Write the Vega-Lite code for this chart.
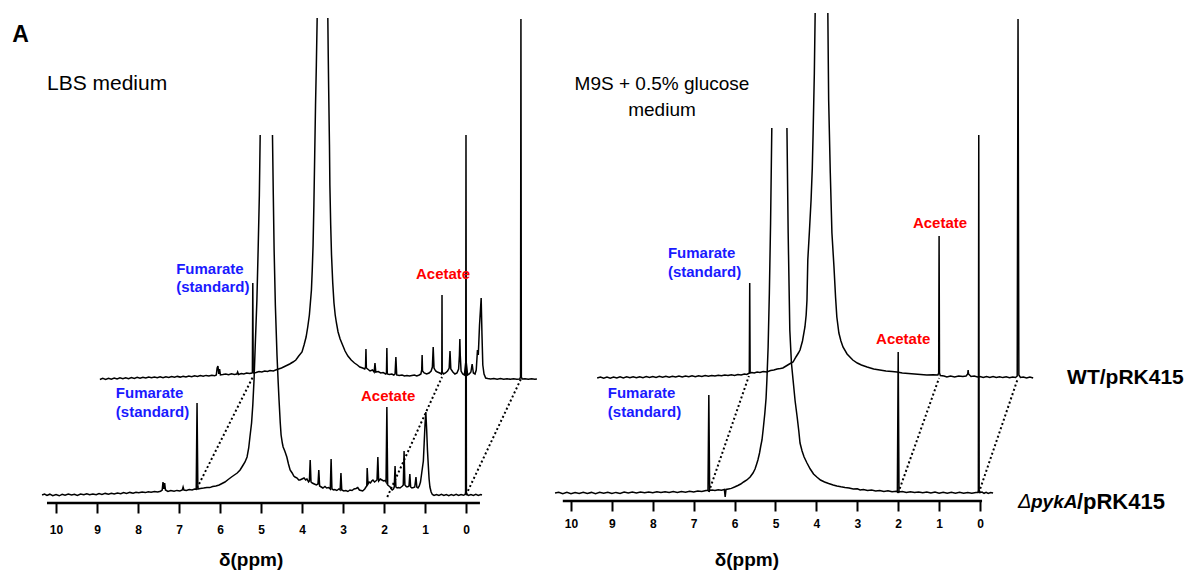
{
"$schema": "https://vega.github.io/schema/vega-lite/v6.json",
"padding": 0,
"autosize": {"type": "pad"},
"bounds": "flush",
"spacing": 5,
"background": "white",
"config": {"view": {"stroke": null}, "font": "Liberation Sans"},
"datasets": {
"lb": [
{"g":"a","x":10.34,"v":0},{"g":"a","x":10.28,"v":1},{"g":"a","x":10.22,"v":-0.5},{"g":"a","x":10.15,"v":0.8},{"g":"a","x":10.08,"v":-0.6},{"g":"a","x":10.0,"v":0.5},{"g":"a","x":9.92,"v":-0.8},{"g":"a","x":9.85,"v":0.6},{"g":"a","x":9.78,"v":-0.3},{"g":"a","x":9.7,"v":1},{"g":"a","x":9.62,"v":0},{"g":"a","x":9.55,"v":0.8},{"g":"a","x":9.48,"v":-0.4},{"g":"a","x":9.4,"v":1},{"g":"a","x":9.32,"v":0.2},{"g":"a","x":9.25,"v":1.2},{"g":"a","x":9.18,"v":0.3},{"g":"a","x":9.1,"v":1},{"g":"a","x":9.02,"v":0.2},{"g":"a","x":8.95,"v":1.4},{"g":"a","x":8.88,"v":0.6},{"g":"a","x":8.8,"v":1.6},{"g":"a","x":8.72,"v":0.8},{"g":"a","x":8.65,"v":1.8},{"g":"a","x":8.58,"v":1},{"g":"a","x":8.5,"v":2},{"g":"a","x":8.42,"v":1.3},{"g":"a","x":8.35,"v":2.4},{"g":"a","x":8.28,"v":1.5},{"g":"a","x":8.2,"v":2.6},{"g":"a","x":8.12,"v":1.8},{"g":"a","x":8.05,"v":2.8},{"g":"a","x":7.98,"v":2.2},{"g":"a","x":7.9,"v":3},{"g":"a","x":7.82,"v":2.4},{"g":"a","x":7.75,"v":3.2},{"g":"a","x":7.68,"v":2.8},{"g":"a","x":7.6,"v":3.6},{"g":"a","x":7.52,"v":3},{"g":"a","x":7.45,"v":3.8},{"g":"a","x":7.41,"v":5},{"g":"a","x":7.39,"v":13},{"g":"a","x":7.37,"v":6},{"g":"a","x":7.35,"v":12},{"g":"a","x":7.33,"v":5},{"g":"a","x":7.27,"v":3.6},{"g":"a","x":7.2,"v":4.4},{"g":"a","x":7.12,"v":3.8},{"g":"a","x":7.05,"v":4.6},{"g":"a","x":6.98,"v":4},{"g":"a","x":6.92,"v":5},{"g":"a","x":6.9,"v":8},{"g":"a","x":6.88,"v":5},{"g":"a","x":6.82,"v":4.6},{"g":"a","x":6.75,"v":5.4},{"g":"a","x":6.68,"v":5},{"g":"a","x":6.62,"v":6},{"g":"a","x":6.58,"v":5.6},{"g":"a","x":6.56,"v":92},{"g":"a","x":6.54,"v":6},{"g":"a","x":6.48,"v":6.6},{"g":"a","x":6.4,"v":7},{"g":"a","x":6.32,"v":7.6},{"g":"a","x":6.25,"v":7.4},{"g":"a","x":6.18,"v":8.4},{"g":"a","x":6.1,"v":9},{"g":"a","x":6.02,"v":10},{"g":"a","x":5.95,"v":11.5},{"g":"a","x":5.88,"v":13},{"g":"a","x":5.8,"v":15.5},{"g":"a","x":5.72,"v":18},{"g":"a","x":5.65,"v":20},{"g":"a","x":5.58,"v":22},{"g":"a","x":5.51,"v":25},{"g":"a","x":5.45,"v":29},{"g":"a","x":5.39,"v":33},{"g":"a","x":5.34,"v":38},{"g":"a","x":5.3,"v":47},{"g":"a","x":5.27,"v":58},{"g":"a","x":5.23,"v":72},{"g":"a","x":5.2,"v":90},{"g":"a","x":5.17,"v":115},{"g":"a","x":5.14,"v":150},{"g":"a","x":5.1,"v":195},{"g":"a","x":5.07,"v":245},{"g":"a","x":5.04,"v":300},{"g":"a","x":5.02,"v":360},
{"g":"b","x":4.72,"v":360},{"g":"b","x":4.7,"v":300},{"g":"b","x":4.68,"v":245},{"g":"b","x":4.65,"v":190},{"g":"b","x":4.61,"v":140},{"g":"b","x":4.58,"v":112},{"g":"b","x":4.56,"v":95},{"g":"b","x":4.53,"v":72},{"g":"b","x":4.51,"v":60},{"g":"b","x":4.48,"v":52},{"g":"b","x":4.46,"v":48},{"g":"b","x":4.42,"v":44},{"g":"b","x":4.37,"v":38},{"g":"b","x":4.33,"v":31},{"g":"b","x":4.29,"v":25},{"g":"b","x":4.24,"v":22},{"g":"b","x":4.2,"v":19},{"g":"b","x":4.17,"v":18},{"g":"b","x":4.12,"v":17},{"g":"b","x":4.08,"v":15},{"g":"b","x":4.05,"v":15},{"g":"b","x":4.0,"v":16},{"g":"b","x":3.95,"v":17},{"g":"b","x":3.91,"v":15},{"g":"b","x":3.88,"v":16},{"g":"b","x":3.84,"v":13},{"g":"b","x":3.82,"v":14},{"g":"b","x":3.8,"v":35},{"g":"b","x":3.78,"v":13},{"g":"b","x":3.75,"v":12},{"g":"b","x":3.7,"v":11},{"g":"b","x":3.65,"v":10},{"g":"b","x":3.61,"v":11},{"g":"b","x":3.59,"v":25},{"g":"b","x":3.57,"v":9},{"g":"b","x":3.53,"v":8},{"g":"b","x":3.49,"v":7},{"g":"b","x":3.44,"v":8.5},{"g":"b","x":3.4,"v":7},{"g":"b","x":3.35,"v":7.5},{"g":"b","x":3.31,"v":6},{"g":"b","x":3.29,"v":36},{"g":"b","x":3.27,"v":6},{"g":"b","x":3.23,"v":5},{"g":"b","x":3.2,"v":5.5},{"g":"b","x":3.15,"v":4.5},{"g":"b","x":3.1,"v":6},{"g":"b","x":3.07,"v":5},{"g":"b","x":3.05,"v":22},{"g":"b","x":3.03,"v":5},{"g":"b","x":2.98,"v":4},{"g":"b","x":2.93,"v":4.5},{"g":"b","x":2.88,"v":3.5},{"g":"b","x":2.83,"v":5},{"g":"b","x":2.78,"v":4.5},{"g":"b","x":2.73,"v":6},{"g":"b","x":2.68,"v":6.5},{"g":"b","x":2.64,"v":7.5},{"g":"b","x":2.6,"v":5},{"g":"b","x":2.56,"v":4.5},{"g":"b","x":2.52,"v":4},{"g":"b","x":2.47,"v":6},{"g":"b","x":2.44,"v":8},{"g":"b","x":2.42,"v":9},{"g":"b","x":2.41,"v":27},{"g":"b","x":2.39,"v":11},{"g":"b","x":2.36,"v":13},{"g":"b","x":2.33,"v":12},{"g":"b","x":2.3,"v":14},{"g":"b","x":2.27,"v":15},{"g":"b","x":2.23,"v":13},{"g":"b","x":2.2,"v":14},{"g":"b","x":2.17,"v":15},{"g":"b","x":2.15,"v":38},{"g":"b","x":2.13,"v":14},{"g":"b","x":2.09,"v":16},{"g":"b","x":2.05,"v":15},{"g":"b","x":2.01,"v":14},{"g":"b","x":1.97,"v":14.5},{"g":"b","x":1.95,"v":13},{"g":"b","x":1.93,"v":88},{"g":"b","x":1.91,"v":10},{"g":"b","x":1.88,"v":9},{"g":"b","x":1.85,"v":8},{"g":"b","x":1.82,"v":6},{"g":"b","x":1.8,"v":5},{"g":"b","x":1.77,"v":6},{"g":"b","x":1.75,"v":8},{"g":"b","x":1.73,"v":29},{"g":"b","x":1.71,"v":8},{"g":"b","x":1.68,"v":7},{"g":"b","x":1.65,"v":7.5},{"g":"b","x":1.61,"v":7},{"g":"b","x":1.58,"v":8},{"g":"b","x":1.55,"v":9},{"g":"b","x":1.53,"v":10},{"g":"b","x":1.51,"v":44},{"g":"b","x":1.49,"v":10},{"g":"b","x":1.46,"v":8.5},{"g":"b","x":1.44,"v":8},{"g":"b","x":1.41,"v":8.5},{"g":"b","x":1.39,"v":9},{"g":"b","x":1.37,"v":21},{"g":"b","x":1.35,"v":8},{"g":"b","x":1.32,"v":7},{"g":"b","x":1.28,"v":7.5},{"g":"b","x":1.25,"v":8},{"g":"b","x":1.22,"v":18},{"g":"b","x":1.2,"v":8},{"g":"b","x":1.17,"v":7},{"g":"b","x":1.14,"v":9},{"g":"b","x":1.11,"v":13},{"g":"b","x":1.08,"v":22},{"g":"b","x":1.06,"v":28},{"g":"b","x":1.04,"v":34},{"g":"b","x":1.02,"v":52},{"g":"b","x":1.0,"v":70},{"g":"b","x":0.98,"v":83},{"g":"b","x":0.96,"v":66},{"g":"b","x":0.94,"v":45},{"g":"b","x":0.92,"v":30},{"g":"b","x":0.9,"v":16},{"g":"b","x":0.88,"v":8},{"g":"b","x":0.85,"v":3},{"g":"b","x":0.82,"v":0.5},{"g":"b","x":0.78,"v":-0.5},{"g":"b","x":0.72,"v":0.5},{"g":"b","x":0.66,"v":-0.4},{"g":"b","x":0.6,"v":0.6},{"g":"b","x":0.54,"v":-0.5},{"g":"b","x":0.48,"v":0.5},{"g":"b","x":0.42,"v":-0.6},{"g":"b","x":0.36,"v":0.4},{"g":"b","x":0.3,"v":-0.4},{"g":"b","x":0.24,"v":0.6},{"g":"b","x":0.18,"v":-0.5},{"g":"b","x":0.12,"v":0.5},{"g":"b","x":0.06,"v":-0.3},{"g":"b","x":0.02,"v":0.5},{"g":"b","x":0.01,"v":3},{"g":"b","x":0.0,"v":360},{"g":"b","x":-0.01,"v":3},{"g":"b","x":-0.02,"v":0.5},{"g":"b","x":-0.06,"v":-0.5},{"g":"b","x":-0.12,"v":0.5},{"g":"b","x":-0.18,"v":-0.4},{"g":"b","x":-0.24,"v":0.6},{"g":"b","x":-0.3,"v":-0.5},{"g":"b","x":-0.36,"v":0.4},{"g":"b","x":-0.39,"v":0}
],
"lt": [
{"g":"a","x":8.93,"v":115.5},{"g":"a","x":8.86,"v":116.6},{"g":"a","x":8.79,"v":115.6},{"g":"a","x":8.72,"v":116.8},{"g":"a","x":8.65,"v":115.8},{"g":"a","x":8.58,"v":117},{"g":"a","x":8.51,"v":116},{"g":"a","x":8.44,"v":117.2},{"g":"a","x":8.37,"v":116.3},{"g":"a","x":8.3,"v":117.3},{"g":"a","x":8.23,"v":116.4},{"g":"a","x":8.16,"v":117.5},{"g":"a","x":8.09,"v":116.6},{"g":"a","x":8.02,"v":117.6},{"g":"a","x":7.95,"v":116.8},{"g":"a","x":7.88,"v":117.8},{"g":"a","x":7.81,"v":117},{"g":"a","x":7.74,"v":118},{"g":"a","x":7.67,"v":117.2},{"g":"a","x":7.6,"v":118},{"g":"a","x":7.53,"v":117.3},{"g":"a","x":7.46,"v":118.2},{"g":"a","x":7.39,"v":117.4},{"g":"a","x":7.32,"v":118.3},{"g":"a","x":7.25,"v":117.6},{"g":"a","x":7.18,"v":118.5},{"g":"a","x":7.11,"v":117.7},{"g":"a","x":7.04,"v":118.6},{"g":"a","x":6.97,"v":117.9},{"g":"a","x":6.9,"v":118.8},{"g":"a","x":6.83,"v":118},{"g":"a","x":6.76,"v":119},{"g":"a","x":6.69,"v":118.3},{"g":"a","x":6.62,"v":119.2},{"g":"a","x":6.55,"v":118.5},{"g":"a","x":6.48,"v":119.4},{"g":"a","x":6.41,"v":118.7},{"g":"a","x":6.34,"v":119.6},{"g":"a","x":6.27,"v":119},{"g":"a","x":6.2,"v":119.8},{"g":"a","x":6.13,"v":119.2},{"g":"a","x":6.09,"v":120},{"g":"a","x":6.07,"v":127},{"g":"a","x":6.05,"v":129},{"g":"a","x":6.03,"v":121},{"g":"a","x":6.01,"v":126},{"g":"a","x":5.99,"v":120},{"g":"a","x":5.93,"v":120.4},{"g":"a","x":5.86,"v":121},{"g":"a","x":5.79,"v":120.3},{"g":"a","x":5.72,"v":121.2},{"g":"a","x":5.65,"v":120.5},{"g":"a","x":5.59,"v":121},{"g":"a","x":5.57,"v":123},{"g":"a","x":5.55,"v":120.5},{"g":"a","x":5.48,"v":121.5},{"g":"a","x":5.42,"v":121},{"g":"a","x":5.35,"v":122},{"g":"a","x":5.28,"v":121.5},{"g":"a","x":5.22,"v":122},{"g":"a","x":5.21,"v":123},{"g":"a","x":5.2,"v":212},{"g":"a","x":5.19,"v":123},{"g":"a","x":5.18,"v":122},{"g":"a","x":5.12,"v":122.5},{"g":"a","x":5.05,"v":123.5},{"g":"a","x":4.98,"v":123},{"g":"a","x":4.91,"v":124},{"g":"a","x":4.84,"v":123.5},{"g":"a","x":4.78,"v":124.5},{"g":"a","x":4.7,"v":124},{"g":"a","x":4.61,"v":125.5},{"g":"a","x":4.5,"v":127},{"g":"a","x":4.4,"v":129},{"g":"a","x":4.3,"v":131},{"g":"a","x":4.22,"v":133},{"g":"a","x":4.15,"v":135},{"g":"a","x":4.08,"v":139},{"g":"a","x":4.0,"v":143},{"g":"a","x":3.95,"v":150},{"g":"a","x":3.9,"v":158},{"g":"a","x":3.86,"v":168},{"g":"a","x":3.82,"v":180},{"g":"a","x":3.8,"v":190},{"g":"a","x":3.77,"v":205},{"g":"a","x":3.75,"v":225},{"g":"a","x":3.73,"v":250},{"g":"a","x":3.71,"v":290},{"g":"a","x":3.69,"v":340},{"g":"a","x":3.67,"v":390},{"g":"a","x":3.65,"v":430},{"g":"a","x":3.63,"v":477},
{"g":"b","x":3.37,"v":477},{"g":"b","x":3.36,"v":440},{"g":"b","x":3.35,"v":408},{"g":"b","x":3.33,"v":350},{"g":"b","x":3.32,"v":310},{"g":"b","x":3.3,"v":270},{"g":"b","x":3.28,"v":240},{"g":"b","x":3.25,"v":212},{"g":"b","x":3.22,"v":192},{"g":"b","x":3.19,"v":180},{"g":"b","x":3.16,"v":172},{"g":"b","x":3.12,"v":163},{"g":"b","x":3.07,"v":156},{"g":"b","x":3.01,"v":150},{"g":"b","x":2.95,"v":144},{"g":"b","x":2.88,"v":139},{"g":"b","x":2.8,"v":135},{"g":"b","x":2.72,"v":132},{"g":"b","x":2.65,"v":130},{"g":"b","x":2.59,"v":128},{"g":"b","x":2.52,"v":127},{"g":"b","x":2.47,"v":126},{"g":"b","x":2.45,"v":128},{"g":"b","x":2.44,"v":146},{"g":"b","x":2.43,"v":127},{"g":"b","x":2.4,"v":126},{"g":"b","x":2.34,"v":124},{"g":"b","x":2.28,"v":125},{"g":"b","x":2.24,"v":123},{"g":"b","x":2.22,"v":132},{"g":"b","x":2.2,"v":123},{"g":"b","x":2.14,"v":123.5},{"g":"b","x":2.08,"v":122},{"g":"b","x":2.02,"v":122.5},{"g":"b","x":1.96,"v":121},{"g":"b","x":1.94,"v":122},{"g":"b","x":1.93,"v":147},{"g":"b","x":1.92,"v":121},{"g":"b","x":1.87,"v":120.5},{"g":"b","x":1.81,"v":121},{"g":"b","x":1.76,"v":120},{"g":"b","x":1.73,"v":121},{"g":"b","x":1.71,"v":138},{"g":"b","x":1.69,"v":120},{"g":"b","x":1.63,"v":119.5},{"g":"b","x":1.56,"v":120},{"g":"b","x":1.5,"v":119},{"g":"b","x":1.44,"v":119.5},{"g":"b","x":1.38,"v":119},{"g":"b","x":1.32,"v":119.5},{"g":"b","x":1.26,"v":120},{"g":"b","x":1.2,"v":119},{"g":"b","x":1.14,"v":120},{"g":"b","x":1.1,"v":121},{"g":"b","x":1.08,"v":125},{"g":"b","x":1.07,"v":140},{"g":"b","x":1.06,"v":124},{"g":"b","x":1.02,"v":122},{"g":"b","x":0.96,"v":121},{"g":"b","x":0.9,"v":122},{"g":"b","x":0.85,"v":124},{"g":"b","x":0.82,"v":128},{"g":"b","x":0.8,"v":148},{"g":"b","x":0.78,"v":127},{"g":"b","x":0.74,"v":124},{"g":"b","x":0.7,"v":123},{"g":"b","x":0.64,"v":122},{"g":"b","x":0.6,"v":121},{"g":"b","x":0.59,"v":124},{"g":"b","x":0.585,"v":200},{"g":"b","x":0.58,"v":123},{"g":"b","x":0.55,"v":121},{"g":"b","x":0.5,"v":122},{"g":"b","x":0.45,"v":124},{"g":"b","x":0.41,"v":127},{"g":"b","x":0.39,"v":144},{"g":"b","x":0.37,"v":126},{"g":"b","x":0.32,"v":123},{"g":"b","x":0.27,"v":121},{"g":"b","x":0.22,"v":122},{"g":"b","x":0.18,"v":126},{"g":"b","x":0.16,"v":140},{"g":"b","x":0.15,"v":156},{"g":"b","x":0.14,"v":140},{"g":"b","x":0.12,"v":124},{"g":"b","x":0.08,"v":121},{"g":"b","x":0.04,"v":120},{"g":"b","x":0.0,"v":135},{"g":"b","x":-0.04,"v":120},{"g":"b","x":-0.08,"v":121},{"g":"b","x":-0.12,"v":123},{"g":"b","x":-0.15,"v":131},{"g":"b","x":-0.18,"v":122},{"g":"b","x":-0.22,"v":121},{"g":"b","x":-0.25,"v":125},{"g":"b","x":-0.28,"v":145},{"g":"b","x":-0.3,"v":140},{"g":"b","x":-0.33,"v":170},{"g":"b","x":-0.37,"v":197},{"g":"b","x":-0.39,"v":160},{"g":"b","x":-0.41,"v":130},{"g":"b","x":-0.44,"v":121},{"g":"b","x":-0.48,"v":117},{"g":"b","x":-0.53,"v":116.5},{"g":"b","x":-0.6,"v":116},{"g":"b","x":-0.68,"v":116.5},{"g":"b","x":-0.76,"v":115.8},{"g":"b","x":-0.84,"v":116.4},{"g":"b","x":-0.92,"v":115.8},{"g":"b","x":-1.0,"v":116.3},{"g":"b","x":-1.08,"v":115.7},{"g":"b","x":-1.16,"v":116.2},{"g":"b","x":-1.24,"v":115.8},{"g":"b","x":-1.31,"v":116},{"g":"b","x":-1.33,"v":118},{"g":"b","x":-1.34,"v":476},{"g":"b","x":-1.35,"v":118},{"g":"b","x":-1.37,"v":116},{"g":"b","x":-1.44,"v":116.3},{"g":"b","x":-1.52,"v":115.7},{"g":"b","x":-1.6,"v":116.2},{"g":"b","x":-1.68,"v":115.8},{"g":"b","x":-1.73,"v":116}
],
"rb": [
{"g":"a","x":10.39,"v":0},{"g":"a","x":10.3,"v":0.8},{"g":"a","x":10.2,"v":-0.6},{"g":"a","x":10.1,"v":0.6},{"g":"a","x":10.0,"v":-0.8},{"g":"a","x":9.9,"v":0.5},{"g":"a","x":9.8,"v":-0.5},{"g":"a","x":9.7,"v":0.8},{"g":"a","x":9.6,"v":-0.4},{"g":"a","x":9.5,"v":0.6},{"g":"a","x":9.4,"v":-0.6},{"g":"a","x":9.3,"v":0.7},{"g":"a","x":9.2,"v":-0.3},{"g":"a","x":9.1,"v":0.8},{"g":"a","x":9.0,"v":-0.5},{"g":"a","x":8.9,"v":0.6},{"g":"a","x":8.8,"v":-0.4},{"g":"a","x":8.7,"v":0.9},{"g":"a","x":8.6,"v":0},{"g":"a","x":8.5,"v":1},{"g":"a","x":8.4,"v":0},{"g":"a","x":8.3,"v":1},{"g":"a","x":8.2,"v":0.2},{"g":"a","x":8.1,"v":1.1},{"g":"a","x":8.0,"v":0.3},{"g":"a","x":7.9,"v":1.2},{"g":"a","x":7.8,"v":0.4},{"g":"a","x":7.7,"v":1.3},{"g":"a","x":7.6,"v":0.5},{"g":"a","x":7.5,"v":1.4},{"g":"a","x":7.4,"v":0.6},{"g":"a","x":7.3,"v":1.5},{"g":"a","x":7.2,"v":0.8},{"g":"a","x":7.1,"v":1.7},{"g":"a","x":7.0,"v":1},{"g":"a","x":6.9,"v":2},{"g":"a","x":6.8,"v":1.4},{"g":"a","x":6.7,"v":2.4},{"g":"a","x":6.65,"v":2.5},{"g":"a","x":6.63,"v":98},{"g":"a","x":6.61,"v":2.6},{"g":"a","x":6.55,"v":3},{"g":"a","x":6.48,"v":2.4},{"g":"a","x":6.4,"v":3.2},{"g":"a","x":6.32,"v":2.8},{"g":"a","x":6.25,"v":3.5},{"g":"a","x":6.23,"v":-4},{"g":"a","x":6.21,"v":3.5},{"g":"a","x":6.15,"v":4},{"g":"a","x":6.08,"v":4.6},{"g":"a","x":6.0,"v":6},{"g":"a","x":5.92,"v":7.5},{"g":"a","x":5.85,"v":9},{"g":"a","x":5.78,"v":11},{"g":"a","x":5.7,"v":13},{"g":"a","x":5.62,"v":16},{"g":"a","x":5.55,"v":20},{"g":"a","x":5.5,"v":24},{"g":"a","x":5.46,"v":29},{"g":"a","x":5.43,"v":33},{"g":"a","x":5.39,"v":40},{"g":"a","x":5.36,"v":47},{"g":"a","x":5.33,"v":53},{"g":"a","x":5.3,"v":64},{"g":"a","x":5.26,"v":80},{"g":"a","x":5.23,"v":95},{"g":"a","x":5.21,"v":113},{"g":"a","x":5.18,"v":146},{"g":"a","x":5.15,"v":200},{"g":"a","x":5.12,"v":270},{"g":"a","x":5.09,"v":365},
{"g":"b","x":4.72,"v":365},{"g":"b","x":4.69,"v":260},{"g":"b","x":4.65,"v":163},{"g":"b","x":4.61,"v":130},{"g":"b","x":4.57,"v":113},{"g":"b","x":4.52,"v":92},{"g":"b","x":4.47,"v":76},{"g":"b","x":4.43,"v":62},{"g":"b","x":4.4,"v":50},{"g":"b","x":4.35,"v":42},{"g":"b","x":4.3,"v":36},{"g":"b","x":4.23,"v":30},{"g":"b","x":4.15,"v":24},{"g":"b","x":4.07,"v":19},{"g":"b","x":3.99,"v":16},{"g":"b","x":3.9,"v":13},{"g":"b","x":3.8,"v":11},{"g":"b","x":3.7,"v":9.5},{"g":"b","x":3.59,"v":8},{"g":"b","x":3.5,"v":7},{"g":"b","x":3.4,"v":6.2},{"g":"b","x":3.3,"v":5.5},{"g":"b","x":3.2,"v":5},{"g":"b","x":3.1,"v":4},{"g":"b","x":3.0,"v":4.2},{"g":"b","x":2.93,"v":3},{"g":"b","x":2.85,"v":3.5},{"g":"b","x":2.75,"v":2.5},{"g":"b","x":2.65,"v":3},{"g":"b","x":2.55,"v":2},{"g":"b","x":2.45,"v":2.6},{"g":"b","x":2.35,"v":1.6},{"g":"b","x":2.25,"v":2.2},{"g":"b","x":2.15,"v":1.2},{"g":"b","x":2.05,"v":1.8},{"g":"b","x":2.02,"v":1},{"g":"b","x":2.0,"v":141},{"g":"b","x":1.98,"v":1},{"g":"b","x":1.9,"v":1.5},{"g":"b","x":1.8,"v":0.5},{"g":"b","x":1.7,"v":1.2},{"g":"b","x":1.6,"v":0.4},{"g":"b","x":1.5,"v":1.1},{"g":"b","x":1.4,"v":0.2},{"g":"b","x":1.3,"v":1},{"g":"b","x":1.2,"v":0},{"g":"b","x":1.1,"v":0.9},{"g":"b","x":1.0,"v":-0.2},{"g":"b","x":0.9,"v":0.8},{"g":"b","x":0.8,"v":-0.3},{"g":"b","x":0.7,"v":0.7},{"g":"b","x":0.6,"v":-0.2},{"g":"b","x":0.5,"v":0.8},{"g":"b","x":0.4,"v":-0.3},{"g":"b","x":0.3,"v":0.6},{"g":"b","x":0.2,"v":-0.2},{"g":"b","x":0.1,"v":0.6},{"g":"b","x":0.05,"v":0.5},{"g":"b","x":0.04,"v":3},{"g":"b","x":0.03,"v":358},{"g":"b","x":0.02,"v":3},{"g":"b","x":0.0,"v":0.5},{"g":"b","x":-0.05,"v":1},{"g":"b","x":-0.1,"v":-0.3},{"g":"b","x":-0.15,"v":0.6},{"g":"b","x":-0.2,"v":-0.4},{"g":"b","x":-0.26,"v":0.5},{"g":"b","x":-0.32,"v":0}
],
"rt": [
{"g":"a","x":9.36,"v":115},{"g":"a","x":9.28,"v":116},{"g":"a","x":9.2,"v":114.8},{"g":"a","x":9.12,"v":115.9},{"g":"a","x":9.04,"v":114.9},{"g":"a","x":8.96,"v":116},{"g":"a","x":8.88,"v":115},{"g":"a","x":8.8,"v":116.1},{"g":"a","x":8.72,"v":115.1},{"g":"a","x":8.64,"v":116.1},{"g":"a","x":8.56,"v":115.2},{"g":"a","x":8.48,"v":116.2},{"g":"a","x":8.4,"v":115.3},{"g":"a","x":8.32,"v":116.3},{"g":"a","x":8.24,"v":115.4},{"g":"a","x":8.16,"v":116.4},{"g":"a","x":8.08,"v":115.5},{"g":"a","x":8.0,"v":116.5},{"g":"a","x":7.92,"v":115.6},{"g":"a","x":7.84,"v":116.6},{"g":"a","x":7.76,"v":115.7},{"g":"a","x":7.68,"v":116.7},{"g":"a","x":7.6,"v":115.8},{"g":"a","x":7.52,"v":116.8},{"g":"a","x":7.44,"v":116},{"g":"a","x":7.36,"v":117},{"g":"a","x":7.28,"v":116},{"g":"a","x":7.2,"v":117},{"g":"a","x":7.12,"v":116.2},{"g":"a","x":7.04,"v":117.2},{"g":"a","x":6.96,"v":116.3},{"g":"a","x":6.88,"v":117.3},{"g":"a","x":6.8,"v":116.5},{"g":"a","x":6.72,"v":117.5},{"g":"a","x":6.64,"v":116.8},{"g":"a","x":6.56,"v":117.6},{"g":"a","x":6.48,"v":117},{"g":"a","x":6.4,"v":117.8},{"g":"a","x":6.32,"v":117.2},{"g":"a","x":6.24,"v":118},{"g":"a","x":6.16,"v":117.4},{"g":"a","x":6.08,"v":118.2},{"g":"a","x":6.0,"v":117.6},{"g":"a","x":5.92,"v":118.5},{"g":"a","x":5.84,"v":118},{"g":"a","x":5.76,"v":119},{"g":"a","x":5.7,"v":118.6},{"g":"a","x":5.66,"v":119.5},{"g":"a","x":5.64,"v":120},{"g":"a","x":5.63,"v":210},{"g":"a","x":5.62,"v":120},{"g":"a","x":5.58,"v":120.5},{"g":"a","x":5.52,"v":120},{"g":"a","x":5.45,"v":121},{"g":"a","x":5.38,"v":120.5},{"g":"a","x":5.3,"v":121.5},{"g":"a","x":5.21,"v":121},{"g":"a","x":5.12,"v":122.5},{"g":"a","x":5.04,"v":123},{"g":"a","x":4.96,"v":124},{"g":"a","x":4.88,"v":124.5},{"g":"a","x":4.82,"v":125},{"g":"a","x":4.74,"v":127},{"g":"a","x":4.66,"v":129},{"g":"a","x":4.57,"v":131},{"g":"a","x":4.5,"v":136},{"g":"a","x":4.44,"v":140},{"g":"a","x":4.4,"v":143},{"g":"a","x":4.34,"v":152},{"g":"a","x":4.28,"v":166},{"g":"a","x":4.25,"v":178},{"g":"a","x":4.23,"v":193},{"g":"a","x":4.21,"v":233},{"g":"a","x":4.17,"v":262},{"g":"a","x":4.13,"v":293},{"g":"a","x":4.1,"v":325},{"g":"a","x":4.08,"v":360},{"g":"a","x":4.05,"v":420},{"g":"a","x":4.03,"v":480},
{"g":"b","x":3.72,"v":480},{"g":"b","x":3.71,"v":435},{"g":"b","x":3.7,"v":393},{"g":"b","x":3.66,"v":320},{"g":"b","x":3.62,"v":260},{"g":"b","x":3.57,"v":226},{"g":"b","x":3.53,"v":195},{"g":"b","x":3.5,"v":176},{"g":"b","x":3.45,"v":160},{"g":"b","x":3.4,"v":152},{"g":"b","x":3.35,"v":146},{"g":"b","x":3.25,"v":139},{"g":"b","x":3.11,"v":133},{"g":"b","x":3.0,"v":130},{"g":"b","x":2.9,"v":128},{"g":"b","x":2.76,"v":126},{"g":"b","x":2.6,"v":124},{"g":"b","x":2.45,"v":123},{"g":"b","x":2.3,"v":122},{"g":"b","x":2.15,"v":121.5},{"g":"b","x":2.03,"v":121},{"g":"b","x":1.9,"v":120},{"g":"b","x":1.75,"v":119.5},{"g":"b","x":1.6,"v":119},{"g":"b","x":1.45,"v":118.6},{"g":"b","x":1.3,"v":118},{"g":"b","x":1.15,"v":118.3},{"g":"b","x":1.03,"v":118},{"g":"b","x":1.01,"v":120},{"g":"b","x":1.0,"v":257},{"g":"b","x":0.99,"v":120},{"g":"b","x":0.97,"v":117.5},{"g":"b","x":0.88,"v":117},{"g":"b","x":0.81,"v":116},{"g":"b","x":0.72,"v":117},{"g":"b","x":0.62,"v":116},{"g":"b","x":0.52,"v":117},{"g":"b","x":0.42,"v":116.5},{"g":"b","x":0.34,"v":117},{"g":"b","x":0.3,"v":119},{"g":"b","x":0.29,"v":123},{"g":"b","x":0.28,"v":119},{"g":"b","x":0.22,"v":116.5},{"g":"b","x":0.14,"v":117},{"g":"b","x":0.06,"v":116},{"g":"b","x":0.0,"v":116.5},{"g":"b","x":-0.08,"v":115.5},{"g":"b","x":-0.16,"v":116.5},{"g":"b","x":-0.24,"v":115.5},{"g":"b","x":-0.32,"v":116.4},{"g":"b","x":-0.4,"v":115.5},{"g":"b","x":-0.48,"v":116.3},{"g":"b","x":-0.56,"v":115.4},{"g":"b","x":-0.64,"v":116.2},{"g":"b","x":-0.72,"v":115.3},{"g":"b","x":-0.8,"v":116.1},{"g":"b","x":-0.87,"v":115.5},{"g":"b","x":-0.91,"v":117},{"g":"b","x":-0.93,"v":474},{"g":"b","x":-0.95,"v":118},{"g":"b","x":-0.99,"v":115.5},{"g":"b","x":-1.06,"v":116},{"g":"b","x":-1.14,"v":115},{"g":"b","x":-1.22,"v":116},{"g":"b","x":-1.3,"v":115}
]
},
"hconcat": [
{
"width": 545, "height": 503,
"encoding": {
"x": {"field": "x", "type": "quantitative", "scale": {"domain": [11.366, -1.927], "nice": false, "zero": false},
 "axis": {"values": [0,1,2,3,4,5,6,7,8,9,10], "format": "d", "domain": false, "grid": false, "tickSize": 10, "tickWidth": 2, "tickColor": "black", "labelFontSize": 12, "labelFontWeight": "bold", "labelFont": "Liberation Sans", "labelColor": "black", "labelPadding": 11, "labelFlush": false, "labelOverlap": false, "title": null}},
"y": {"field": "v", "type": "quantitative", "scale": {"domain": [-8, 495], "nice": false, "zero": false}, "axis": null}
},
"layer": [
{"data": {"name": "lt"}, "mark": {"type": "line", "color": "black", "strokeWidth": 1.5}, "encoding": {"detail": {"field": "g"}}},
{"data": {"name": "lb"}, "mark": {"type": "line", "color": "black", "strokeWidth": 1.5}, "encoding": {"detail": {"field": "g"}}},
{"data": {"values": [{"x": 6.56, "v": 7, "x2": 5.2, "v2": 118}, {"x": 1.92, "v": -2, "x2": 0.585, "v2": 118}, {"x": 0, "v": 0, "x2": -1.34, "v2": 116}]},
 "mark": {"type": "rule", "color": "black", "strokeWidth": 2, "strokeDash": [2, 2.5]}, "encoding": {"x2": {"field": "x2"}, "y2": {"field": "v2"}}},
{"data": {"values": [{"x": 10.22, "x2": -0.34, "v": -8}]}, "mark": {"type": "rule", "color": "black", "strokeWidth": 2.5}, "encoding": {"x2": {"field": "x2"}}},
{"data": {"values": [{"x": 11.07, "v": 460, "t": "A"}]}, "mark": {"type": "text", "align": "left", "baseline": "middle", "font": "Liberation Sans", "fontSize": 23, "fontWeight": "bold", "color": "black"}, "encoding": {"text": {"field": "t"}}},
{"data": {"values": [{"x": 10.22, "v": 411, "t": "LBS medium"}]}, "mark": {"type": "text", "align": "left", "baseline": "middle", "font": "Liberation Sans", "fontSize": 21, "color": "black"}, "encoding": {"text": {"field": "t"}}},
{"data": {"values": [{"x": 7.07, "v": 226, "t": "Fumarate"}, {"x": 7.07, "v": 208, "t": "(standard)"}, {"x": 8.54, "v": 102, "t": "Fumarate"}, {"x": 8.54, "v": 83, "t": "(standard)"}]}, "mark": {"type": "text", "align": "left", "baseline": "middle", "font": "Liberation Sans", "fontSize": 15, "fontWeight": "bold", "color": "#1a1aff"}, "encoding": {"text": {"field": "t"}}},
{"data": {"values": [{"x": 1.22, "v": 221, "t": "Acetate"}, {"x": 2.56, "v": 99, "t": "Acetate"}]}, "mark": {"type": "text", "align": "left", "baseline": "middle", "font": "Liberation Sans", "fontSize": 15, "fontWeight": "bold", "color": "#ff0000"}, "encoding": {"text": {"field": "t"}}},
{"data": {"values": [{"x": 5.24, "v": -65, "t": "δ(ppm)"}]}, "mark": {"type": "text", "align": "center", "baseline": "middle", "font": "Liberation Sans", "fontSize": 19, "fontWeight": "bold", "color": "black"}, "encoding": {"text": {"field": "t"}}}
]
},
{
"width": 641, "height": 501,
"encoding": {
"x": {"field": "x", "type": "quantitative", "scale": {"domain": [10.513, -5.159], "nice": false, "zero": false},
 "axis": {"values": [0,1,2,3,4,5,6,7,8,9,10], "format": "d", "domain": false, "grid": false, "tickSize": 10, "tickWidth": 2, "tickColor": "black", "labelFontSize": 12, "labelFontWeight": "bold", "labelFont": "Liberation Sans", "labelColor": "black", "labelPadding": 7, "labelFlush": false, "labelOverlap": false, "title": null}},
"y": {"field": "v", "type": "quantitative", "scale": {"domain": [-8, 493], "nice": false, "zero": false}, "axis": null}
},
"layer": [
{"data": {"name": "rt"}, "mark": {"type": "line", "color": "black", "strokeWidth": 1.5}, "encoding": {"detail": {"field": "g"}}},
{"data": {"name": "rb"}, "mark": {"type": "line", "color": "black", "strokeWidth": 1.5}, "encoding": {"detail": {"field": "g"}}},
{"data": {"values": [{"x": 6.63, "v": 1, "x2": 5.65, "v2": 117}, {"x": 2.0, "v": 0, "x2": 1.0, "v2": 115}, {"x": 0.03, "v": 0, "x2": -0.93, "v2": 115}]},
 "mark": {"type": "rule", "color": "black", "strokeWidth": 2, "strokeDash": [2, 2.5]}, "encoding": {"x2": {"field": "x2"}, "y2": {"field": "v2"}}},
{"data": {"values": [{"x": 10.2, "x2": -0.05, "v": -8}]}, "mark": {"type": "rule", "color": "black", "strokeWidth": 2.5}, "encoding": {"x2": {"field": "x2"}}},
{"data": {"values": [{"x": 7.775, "v": 409, "t": "M9S + 0.5% glucose"}, {"x": 7.775, "v": 383, "t": "medium"}]}, "mark": {"type": "text", "align": "center", "baseline": "middle", "font": "Liberation Sans", "fontSize": 19, "color": "black"}, "encoding": {"text": {"field": "t"}}},
{"data": {"values": [{"x": 7.63, "v": 240, "t": "Fumarate"}, {"x": 7.63, "v": 221, "t": "(standard)"}, {"x": 9.1, "v": 100, "t": "Fumarate"}, {"x": 9.1, "v": 81, "t": "(standard)"}]}, "mark": {"type": "text", "align": "left", "baseline": "middle", "font": "Liberation Sans", "fontSize": 15, "fontWeight": "bold", "color": "#1a1aff"}, "encoding": {"text": {"field": "t"}}},
{"data": {"values": [{"x": 1.64, "v": 270, "t": "Acetate"}, {"x": 2.54, "v": 154, "t": "Acetate"}]}, "mark": {"type": "text", "align": "left", "baseline": "middle", "font": "Liberation Sans", "fontSize": 15, "fontWeight": "bold", "color": "#ff0000"}, "encoding": {"text": {"field": "t"}}},
{"data": {"values": [{"x": 5.7, "v": -67, "t": "δ(ppm)"}]}, "mark": {"type": "text", "align": "center", "baseline": "middle", "font": "Liberation Sans", "fontSize": 19, "fontWeight": "bold", "color": "black"}, "encoding": {"text": {"field": "t"}}},
{"data": {"values": [{"x": -2.13, "v": 115, "t": "WT/pRK415"}]}, "mark": {"type": "text", "align": "left", "baseline": "middle", "font": "Liberation Sans", "fontSize": 21, "fontWeight": "bold", "color": "black"}, "encoding": {"text": {"field": "t"}}},
{"data": {"values": [{"x": -2.37, "v": -9, "t": "/pRK415"}]}, "mark": {"type": "text", "align": "left", "baseline": "middle", "font": "Liberation Sans", "fontSize": 22, "fontWeight": "bold", "color": "black"}, "encoding": {"text": {"field": "t"}}},
{"data": {"values": [{"x": -1.247, "v": -9, "t": "pykA"}]}, "mark": {"type": "text", "align": "left", "baseline": "middle", "font": "Liberation Sans", "fontSize": 19, "fontWeight": "bold", "fontStyle": "italic", "color": "black"}, "encoding": {"text": {"field": "t"}}},
{"data": {"values": [{"x": -0.93, "v": -9, "t": "Δ"}]}, "mark": {"type": "text", "align": "left", "baseline": "middle", "font": "Liberation Sans", "fontSize": 20, "fontStyle": "italic", "color": "black"}, "encoding": {"text": {"field": "t"}}}
]
}
]
}
